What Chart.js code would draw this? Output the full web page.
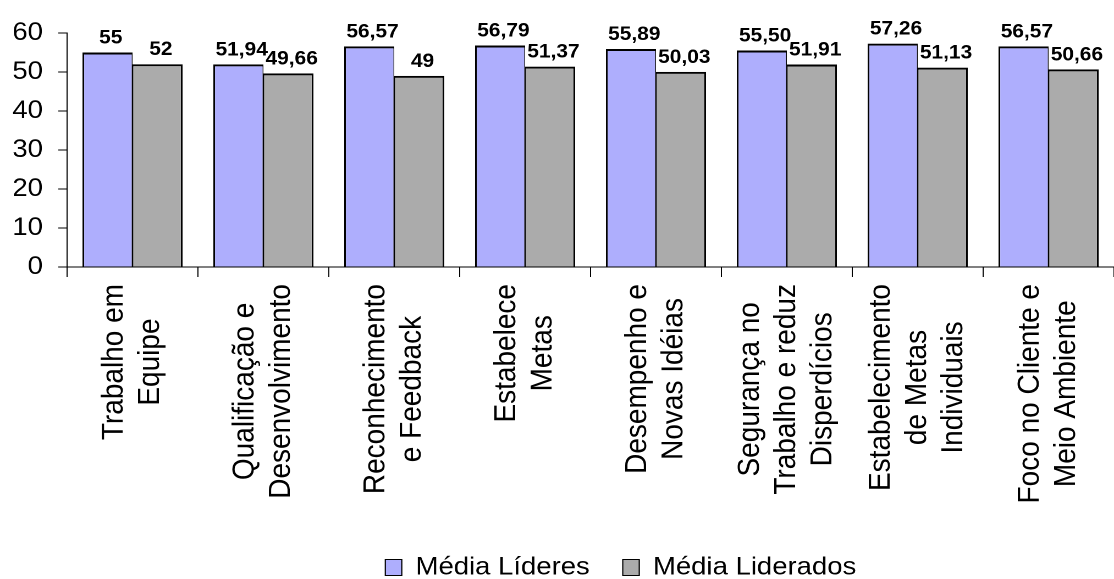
<!DOCTYPE html>
<html>
<head>
<meta charset="utf-8">
<script src="https://cdn.jsdelivr.net/npm/chart.js@4.4.0/dist/chart.umd.min.js"></script>
<style>
    html, body { margin: 0; padding: 0; background: #fff; overflow: hidden; }
    #chart { display: block; }
</style>
</head>
<body>
<!-- the original picture is stretched a bit horizontally, so the canvas is drawn narrower and scaled by its inline style -->
<canvas id="chart" width="1013" height="579" style="width:1114px;height:579px;"></canvas>
<script>
// Categories (multi-line labels)
const categories = [
    ['Trabalho em', 'Equipe'],
    ['Qualificação e', 'Desenvolvimento'],
    ['Reconhecimento', 'e Feedback'],
    ['Estabelece', 'Metas'],
    ['Desempenho e', 'Novas Idéias'],
    ['Segurança no', 'Trabalho e reduz', 'Disperdícios'],
    ['Estabelecimento', 'de Metas', 'Individuais'],
    ['Foco no Cliente e', 'Meio Ambiente']
];

// Series values
const mediaLideres = [55, 51.94, 56.57, 56.79, 55.89, 55.50, 57.26, 56.57];
const mediaLiderados = [52, 49.66, 49, 51.37, 50.03, 51.91, 51.13, 50.66];

// Y axis range
const yMin = 0;
const yMax = 60;
const yStep = 10;

const FONT = "'Liberation Sans', Arial, Helvetica, sans-serif";

// Format like the original: integers without decimals, otherwise two decimals with comma
function formatValue(v) {
    if (Number.isInteger(v)) return String(v);
    return v.toFixed(2).replace('.', ',');
}

// Draw value labels above each bar
const valueLabels = {
    id: 'valueLabels',
    afterDatasetsDraw(chart) {
        const ctx = chart.ctx;
        ctx.save();
        ctx.font = 'bold 19px ' + FONT;
        ctx.fillStyle = '#000';
        ctx.textAlign = 'center';
        ctx.textBaseline = 'alphabetic';
        chart.data.datasets.forEach((ds, di) => {
            const meta = chart.getDatasetMeta(di);
            meta.data.forEach((bar, i) => {
                ctx.fillText(formatValue(ds.data[i]), bar.x + 3, bar.y - 9);
            });
        });
        ctx.restore();
    }
};

// Rotated category labels, lines centered on each other
const categoryLabels = {
    id: 'categoryLabels',
    afterDraw(chart) {
        const ctx = chart.ctx;
        const xScale = chart.scales.x;
        ctx.save();
        ctx.font = '28px ' + FONT;
        ctx.fillStyle = '#000';
        ctx.textAlign = 'center';
        ctx.textBaseline = 'middle';
        categories.forEach((lines, i) => {
            const x = xScale.getPixelForValue(i);
            const maxW = Math.max(...lines.map(l => ctx.measureText(l).width));
            ctx.save();
            ctx.translate(x, xScale.top + 17);
            ctx.rotate(-Math.PI / 2);
            lines.forEach((line, k) => {
                ctx.fillText(line, -maxW / 2, (k - (lines.length - 1) / 2) * 33);
            });
            ctx.restore();
        });
        ctx.restore();
    }
};

// Legend sits a bit right of center in the original
const legendShift = {
    id: 'legendShift',
    afterLayout(chart) {
        if (chart.legend) {
            chart.legend.left += 58;
            chart.legend.right += 58;
        }
    }
};

const ctx = document.getElementById('chart').getContext('2d');
new Chart(ctx, {
    type: 'bar',
    data: {
        labels: categories.map(c => c.join(' ')),
        datasets: [
            {
                label: 'Média Líderes',
                data: mediaLideres,
                backgroundColor: '#aeaefd',
                borderColor: '#000',
                borderWidth: { top: 2, left: 1.6, right: 0.8, bottom: 0 },
                categoryPercentage: 0.765,
                barPercentage: 1.0
            },
            {
                label: 'Média Liderados',
                data: mediaLiderados,
                backgroundColor: '#ababab',
                borderColor: '#000',
                borderWidth: { top: 2, left: 0.8, right: 1.6, bottom: 0 },
                categoryPercentage: 0.765,
                barPercentage: 1.0
            }
        ]
    },
    options: {
        responsive: false,
        animation: false,
        devicePixelRatio: 2,
        layout: {
            padding: { top: 33, left: 0, right: 0, bottom: -11 }
        },
        plugins: {
            legend: {
                display: true,
                position: 'bottom',
                labels: {
                    color: '#000',
                    font: { family: FONT, size: 25 },
                    boxWidth: 15,
                    boxHeight: 16,
                    padding: 30
                }
            },
            title: { display: false },
            tooltip: { enabled: false }
        },
        scales: {
            x: {
                grid: {
                    display: true,
                    drawOnChartArea: false,
                    drawTicks: true,
                    tickLength: 10,
                    color: '#000',
                    lineWidth: 1,
                    offset: true
                },
                border: { display: true, color: '#000', width: 1 },
                ticks: { display: false },
                afterFit(scale) {
                    scale.height = 258;
                }
            },
            y: {
                min: yMin,
                max: yMax,
                grid: {
                    display: true,
                    drawOnChartArea: false,
                    drawTicks: true,
                    tickLength: 8,
                    color: '#000',
                    lineWidth: 1
                },
                border: { display: true, color: '#000', width: 1 },
                ticks: {
                    stepSize: yStep,
                    color: '#000',
                    padding: 14,
                    font: { family: FONT, size: 25 }
                },
                afterFit(scale) {
                    scale.width = 61;
                }
            }
        }
    },
    plugins: [valueLabels, categoryLabels, legendShift]
});
</script>
</body>
</html>
